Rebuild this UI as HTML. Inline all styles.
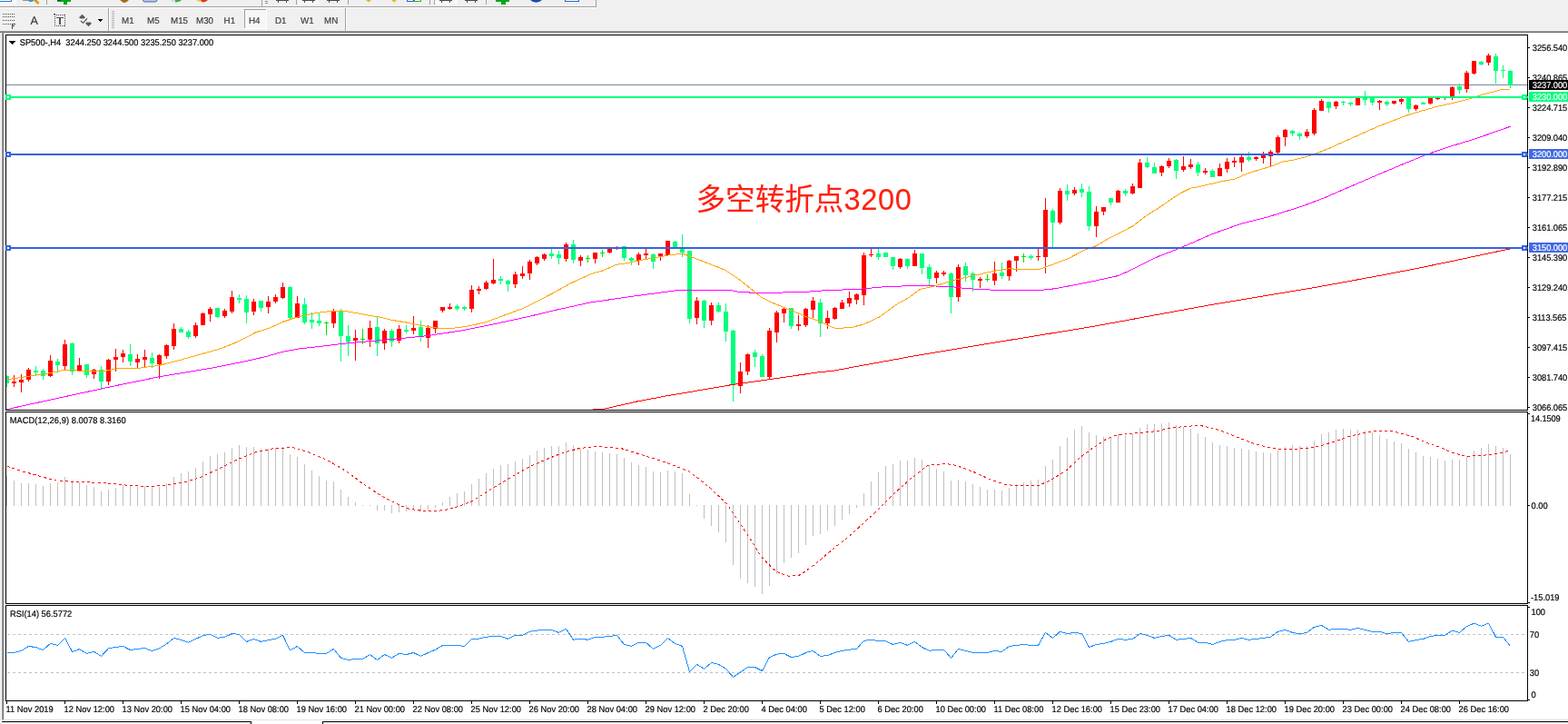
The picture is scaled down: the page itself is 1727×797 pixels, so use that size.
<!DOCTYPE html>
<html lang="zh"><head><meta charset="utf-8"><title>SP500-,H4</title>
<style>
html,body{margin:0;padding:0;background:#fff;}
body{width:1727px;height:797px;overflow:hidden;position:relative;font-family:"Liberation Sans","Noto Sans CJK SC",sans-serif;font-size:9.3px;color:#000;}
#g{position:absolute;left:0;top:0;}
.t{position:absolute;white-space:nowrap;line-height:12px;height:12px;text-rendering:geometricPrecision;-webkit-text-stroke:0.18px currentColor;}
.tb{color:#3c3c3c;}
.w{color:#fff;}
#note{position:absolute;left:766.5px;top:197.4px;-webkit-text-stroke:0.12px #ff2010;font-size:32.6px;line-height:46px;color:#ff2010;white-space:nowrap;font-family:"Liberation Sans","Noto Sans CJK SC",sans-serif;}
</style></head><body>
<svg id="g" width="1727" height="797" viewBox="0 0 1727 797" shape-rendering="crispEdges">
<rect x="0" y="0" width="1727" height="34" fill="#f0f0f0"/>
<rect x="0" y="7" width="657" height="1" fill="#a0a0a0"/>
<rect x="0" y="8" width="657" height="1" fill="#ffffff"/>
<rect x="656" y="0" width="1" height="8" fill="#a0a0a0"/>
<rect x="0" y="34" width="1727" height="1" fill="#a0a0a0"/>
<rect x="0" y="35" width="1727" height="1" fill="#696969"/>
<rect x="0" y="36" width="2" height="757" fill="#f0f0f0"/>
<rect x="2" y="36" width="1" height="756" fill="#a0a0a0"/>
<rect x="3" y="36" width="1" height="756" fill="#696969"/>
<rect x="2" y="34" width="2" height="2" fill="#888"/>
<rect x="0" y="792" width="1727" height="1" fill="#e3e3e3"/>
<rect x="2" y="794" width="1727" height="1" fill="#000"/>
<rect x="0" y="795" width="1727" height="2" fill="#f0f0f0"/>
<rect x="277" y="794" width="79" height="3" fill="#fff"/>
<rect x="276" y="794" width="1" height="3" fill="#000"/>
<rect x="355" y="794" width="1" height="3" fill="#000"/>
<rect x="0" y="0" width="18" height="5" fill="#f8f8f8"/>
<rect x="0" y="0" width="13" height="1" fill="#ffffff"/>
<rect x="0" y="1" width="13" height="1" fill="#2a78d0"/>
<rect x="12" y="0" width="1" height="2" fill="#2a78d0"/>
<path d="M25,0 L31,0 L31,1.5 L25,1 Z" fill="#9a9484"/>
<path d="M30,0 L37,0 L35.5,1.6 L32,1.6 Z" fill="#4a90d8"/>
<path d="M37,0 L40.5,0 L43.5,3 L41.5,4.8 L37.5,1 Z" fill="#d0a010" shape-rendering="auto"/>
<rect x="51" y="0" width="1" height="5" fill="#a0a0a0"/>
<rect x="63" y="0" width="15" height="2" fill="#00a818"/>
<rect x="70" y="0" width="4" height="5" fill="#00a818"/>
<rect x="63" y="0" width="4" height="1" fill="#404040"/>
<path d="M132,0 L142,0 L139,2.6 L136,3 Z" fill="#a8681c" shape-rendering="auto"/>
<rect x="157.5" y="-3" width="15.5" height="5" rx="2" fill="#b8c8e4" stroke="#4a68b4" stroke-width="1" shape-rendering="auto"/>
<path d="M187,0 L193,0 L193,2.2 Q189,2 187,0 Z" fill="#c8dcf0" shape-rendering="auto"/>
<path d="M193,0 L200,0 Q198,2.4 193,2.4 Z" fill="#3cb044" shape-rendering="auto"/>
<path d="M216,0 L222,0 L222,2 Q218,2 216,0 Z" fill="#e8c83c" shape-rendering="auto"/>
<path d="M221,0 L229,0 Q227,2.6 223,2.4 Z" fill="#e83410" shape-rendering="auto"/>
<rect x="288" y="0" width="1" height="7" fill="#a0a0a0"/>
<rect x="292" y="1" width="3" height="1" fill="#909090"/>
<rect x="292" y="3" width="3" height="1" fill="#909090"/>
<rect x="304" y="0" width="14" height="1" fill="#4a4a4a"/>
<rect x="306" y="1" width="1" height="2" fill="#4a4a4a"/>
<rect x="315" y="1" width="1" height="2" fill="#4a4a4a"/>
<rect x="326" y="0" width="1" height="5" fill="#a0a0a0"/>
<rect x="328" y="0" width="23" height="5" fill="#f8f8f8"/>
<rect x="333" y="0" width="14" height="1" fill="#4a4a4a"/>
<rect x="335" y="1" width="1" height="2" fill="#4a4a4a"/>
<rect x="344" y="1" width="1" height="2" fill="#4a4a4a"/>
<rect x="360" y="0" width="14" height="1" fill="#4a4a4a"/>
<rect x="362" y="1" width="1" height="2" fill="#4a4a4a"/>
<rect x="371" y="1" width="1" height="2" fill="#4a4a4a"/>
<rect x="383" y="0" width="1" height="5" fill="#a0a0a0"/>
<path d="M403,0 L409,0 L406,2.6 Z" fill="#e0b818" shape-rendering="auto"/>
<path d="M431,0 L437,0 L434,2.6 Z" fill="#e0b818" shape-rendering="auto"/>
<rect x="448" y="0" width="8" height="2" fill="#2a5cd8"/>
<rect x="449" y="0" width="6" height="1" fill="#fff"/>
<rect x="456" y="0" width="8" height="2" fill="#38a830"/>
<rect x="457" y="0" width="6" height="1" fill="#fff"/>
<rect x="473" y="0" width="1" height="5" fill="#a0a0a0"/>
<rect x="478" y="0" width="1" height="5" fill="#a0a0a0"/>
<rect x="479" y="0" width="25" height="5" fill="#f8f8f8"/>
<rect x="484" y="0" width="14" height="1" fill="#4a4a4a"/>
<rect x="486" y="1" width="1" height="2" fill="#4a4a4a"/>
<rect x="495" y="1" width="1" height="2" fill="#4a4a4a"/>
<rect x="512" y="0" width="14" height="1" fill="#4a4a4a"/>
<rect x="514" y="1" width="1" height="2" fill="#4a4a4a"/>
<rect x="523" y="1" width="1" height="2" fill="#4a4a4a"/>
<rect x="535" y="0" width="1" height="5" fill="#a0a0a0"/>
<rect x="546" y="0" width="15" height="2" fill="#00a818"/>
<rect x="552" y="0" width="5" height="5" fill="#00a818"/>
<path d="M584,0 L597,0 Q594,2.8 590.5,2.8 Q587,2.8 584,0 Z" fill="#1c4cb0" shape-rendering="auto"/>
<rect x="622" y="0" width="16" height="2" fill="#2a6cc8"/>
<rect x="623" y="0" width="14" height="1" fill="#fff"/>
<rect x="3" y="15" width="1" height="1" fill="#4a4a4a"/>
<rect x="5" y="15" width="1" height="1" fill="#4a4a4a"/>
<rect x="7" y="15" width="1" height="1" fill="#4a4a4a"/>
<rect x="9" y="15" width="1" height="1" fill="#4a4a4a"/>
<rect x="11" y="15" width="1" height="1" fill="#4a4a4a"/>
<rect x="13" y="15" width="1" height="1" fill="#4a4a4a"/>
<rect x="15" y="15" width="1" height="1" fill="#4a4a4a"/>
<rect x="3" y="18" width="1" height="1" fill="#4a4a4a"/>
<rect x="5" y="18" width="1" height="1" fill="#4a4a4a"/>
<rect x="7" y="18" width="1" height="1" fill="#4a4a4a"/>
<rect x="9" y="18" width="1" height="1" fill="#4a4a4a"/>
<rect x="11" y="18" width="1" height="1" fill="#4a4a4a"/>
<rect x="13" y="18" width="1" height="1" fill="#4a4a4a"/>
<rect x="15" y="18" width="1" height="1" fill="#4a4a4a"/>
<rect x="3" y="22" width="1" height="1" fill="#4a4a4a"/>
<rect x="5" y="22" width="1" height="1" fill="#4a4a4a"/>
<rect x="7" y="22" width="1" height="1" fill="#4a4a4a"/>
<rect x="9" y="22" width="1" height="1" fill="#4a4a4a"/>
<rect x="11" y="22" width="1" height="1" fill="#4a4a4a"/>
<rect x="13" y="22" width="1" height="1" fill="#4a4a4a"/>
<rect x="15" y="22" width="1" height="1" fill="#4a4a4a"/>
<rect x="3" y="26" width="1" height="1" fill="#4a4a4a"/>
<rect x="5" y="26" width="1" height="1" fill="#4a4a4a"/>
<rect x="7" y="26" width="1" height="1" fill="#4a4a4a"/>
<rect x="9" y="26" width="1" height="1" fill="#4a4a4a"/>
<rect x="11" y="26" width="1" height="1" fill="#4a4a4a"/>
<rect x="13" y="26" width="1" height="6" fill="#4a4a4a"/>
<rect x="13" y="26" width="4" height="1" fill="#4a4a4a"/>
<rect x="13" y="28" width="3" height="1" fill="#4a4a4a"/>
<rect x="60" y="16" width="1" height="1" fill="#4a4a4a"/>
<rect x="60" y="28" width="1" height="1" fill="#4a4a4a"/>
<rect x="62" y="16" width="1" height="1" fill="#4a4a4a"/>
<rect x="62" y="28" width="1" height="1" fill="#4a4a4a"/>
<rect x="64" y="16" width="1" height="1" fill="#4a4a4a"/>
<rect x="64" y="28" width="1" height="1" fill="#4a4a4a"/>
<rect x="66" y="16" width="1" height="1" fill="#4a4a4a"/>
<rect x="66" y="28" width="1" height="1" fill="#4a4a4a"/>
<rect x="68" y="16" width="1" height="1" fill="#4a4a4a"/>
<rect x="68" y="28" width="1" height="1" fill="#4a4a4a"/>
<rect x="70" y="16" width="1" height="1" fill="#4a4a4a"/>
<rect x="70" y="28" width="1" height="1" fill="#4a4a4a"/>
<rect x="71" y="16" width="1" height="1" fill="#4a4a4a"/>
<rect x="71" y="28" width="1" height="1" fill="#4a4a4a"/>
<rect x="60" y="18" width="1" height="1" fill="#4a4a4a"/>
<rect x="71" y="18" width="1" height="1" fill="#4a4a4a"/>
<rect x="60" y="20" width="1" height="1" fill="#4a4a4a"/>
<rect x="71" y="20" width="1" height="1" fill="#4a4a4a"/>
<rect x="60" y="22" width="1" height="1" fill="#4a4a4a"/>
<rect x="71" y="22" width="1" height="1" fill="#4a4a4a"/>
<rect x="60" y="24" width="1" height="1" fill="#4a4a4a"/>
<rect x="71" y="24" width="1" height="1" fill="#4a4a4a"/>
<rect x="60" y="26" width="1" height="1" fill="#4a4a4a"/>
<rect x="71" y="26" width="1" height="1" fill="#4a4a4a"/>
<rect x="59" y="15" width="2" height="1" fill="#4a4a4a"/>
<rect x="62" y="19" width="8" height="1" fill="#555"/>
<rect x="65" y="19" width="2" height="8" fill="#555"/>
<path d="M90.5,15.8 L94,19.3 L92.4,20.6 L88.6,20.6 L87,19.3 Z" fill="#5a5a5a" shape-rendering="auto"/>
<path d="M97.5,29.2 L101,25.7 L99.4,24.4 L95.6,24.4 L94,25.7 Z" fill="#5a5a5a" shape-rendering="auto"/>
<path d="M89,23 L91.5,25.3 L96,20.3" fill="none" stroke="#444" stroke-width="1.1" shape-rendering="auto"/>
<rect x="108" y="21" width="5" height="1" fill="#000"/>
<rect x="109" y="22" width="3" height="1" fill="#000"/>
<rect x="110" y="23" width="1" height="1" fill="#000"/>
<rect x="119" y="9" width="1" height="25" fill="#a0a0a0"/>
<rect x="120" y="9" width="1" height="25" fill="#fff"/>
<rect x="123" y="12" width="3" height="1" fill="#b4b4b4"/>
<rect x="123" y="14" width="3" height="1" fill="#b4b4b4"/>
<rect x="123" y="16" width="3" height="1" fill="#b4b4b4"/>
<rect x="123" y="18" width="3" height="1" fill="#b4b4b4"/>
<rect x="123" y="20" width="3" height="1" fill="#b4b4b4"/>
<rect x="123" y="22" width="3" height="1" fill="#b4b4b4"/>
<rect x="123" y="24" width="3" height="1" fill="#b4b4b4"/>
<rect x="123" y="26" width="3" height="1" fill="#b4b4b4"/>
<rect x="123" y="28" width="3" height="1" fill="#b4b4b4"/>
<rect x="123" y="30" width="3" height="1" fill="#b4b4b4"/>
<rect x="269" y="10" width="25" height="22" fill="#f7f7f7"/>
<rect x="269" y="10" width="25" height="1" fill="#a0a0a0"/>
<rect x="269" y="10" width="1" height="22" fill="#a0a0a0"/>
<rect x="293" y="10" width="1" height="22" fill="#fff"/>
<rect x="269" y="31" width="25" height="1" fill="#fff"/>
<rect x="380" y="9" width="1" height="25" fill="#a0a0a0"/>
<rect x="381" y="9" width="1" height="25" fill="#fff"/>
<rect x="10" y="45" width="7" height="1" fill="#000"/>
<rect x="11" y="46" width="5" height="1" fill="#000"/>
<rect x="12" y="47" width="3" height="1" fill="#000"/>
<rect x="13" y="48" width="1" height="1" fill="#000"/>
<rect x="7" y="93" width="1675" height="1" fill="#778899"/>
<rect x="7" y="413" width="1" height="13" fill="#00fe7c"/>
<rect x="7" y="414" width="3" height="8" fill="#00fe7c"/>
<rect x="15" y="413" width="1" height="13" fill="#ff0000"/>
<rect x="13" y="420" width="5" height="2" fill="#ff0000"/>
<rect x="23" y="412" width="1" height="20" fill="#ff0000"/>
<rect x="21" y="418" width="5" height="3" fill="#ff0000"/>
<rect x="31" y="405" width="1" height="15" fill="#ff0000"/>
<rect x="29" y="407" width="5" height="11" fill="#ff0000"/>
<rect x="39" y="403" width="1" height="10" fill="#00fe7c"/>
<rect x="37" y="408" width="5" height="2" fill="#00fe7c"/>
<rect x="47" y="406" width="1" height="12" fill="#00fe7c"/>
<rect x="45" y="408" width="5" height="6" fill="#00fe7c"/>
<rect x="55" y="391" width="1" height="24" fill="#ff0000"/>
<rect x="53" y="397" width="5" height="17" fill="#ff0000"/>
<rect x="63" y="395" width="1" height="15" fill="#00fe7c"/>
<rect x="61" y="398" width="5" height="4" fill="#00fe7c"/>
<rect x="71" y="374" width="1" height="33" fill="#ff0000"/>
<rect x="69" y="379" width="5" height="24" fill="#ff0000"/>
<rect x="79" y="377" width="1" height="36" fill="#00fe7c"/>
<rect x="77" y="378" width="5" height="31" fill="#00fe7c"/>
<rect x="87" y="394" width="1" height="14" fill="#ff0000"/>
<rect x="85" y="402" width="5" height="6" fill="#ff0000"/>
<rect x="95" y="401" width="1" height="15" fill="#00fe7c"/>
<rect x="93" y="401" width="5" height="12" fill="#00fe7c"/>
<rect x="103" y="406" width="1" height="11" fill="#ff0000"/>
<rect x="101" y="407" width="5" height="5" fill="#ff0000"/>
<rect x="111" y="403" width="1" height="26" fill="#00fe7c"/>
<rect x="109" y="407" width="5" height="13" fill="#00fe7c"/>
<rect x="119" y="395" width="1" height="29" fill="#ff0000"/>
<rect x="117" y="396" width="5" height="24" fill="#ff0000"/>
<rect x="127" y="384" width="1" height="25" fill="#ff0000"/>
<rect x="125" y="393" width="5" height="3" fill="#ff0000"/>
<rect x="135" y="385" width="1" height="14" fill="#ff0000"/>
<rect x="133" y="389" width="5" height="4" fill="#ff0000"/>
<rect x="143" y="379" width="1" height="24" fill="#00fe7c"/>
<rect x="141" y="390" width="5" height="8" fill="#00fe7c"/>
<rect x="151" y="390" width="1" height="15" fill="#ff0000"/>
<rect x="149" y="395" width="5" height="4" fill="#ff0000"/>
<rect x="159" y="385" width="1" height="19" fill="#ff0000"/>
<rect x="157" y="393" width="5" height="3" fill="#ff0000"/>
<rect x="167" y="388" width="1" height="17" fill="#00fe7c"/>
<rect x="165" y="394" width="5" height="6" fill="#00fe7c"/>
<rect x="175" y="390" width="1" height="27" fill="#ff0000"/>
<rect x="173" y="391" width="5" height="10" fill="#ff0000"/>
<rect x="183" y="379" width="1" height="16" fill="#ff0000"/>
<rect x="181" y="380" width="5" height="12" fill="#ff0000"/>
<rect x="191" y="356" width="1" height="29" fill="#ff0000"/>
<rect x="189" y="362" width="5" height="19" fill="#ff0000"/>
<rect x="199" y="360" width="1" height="6" fill="#00fe7c"/>
<rect x="197" y="362" width="5" height="4" fill="#00fe7c"/>
<rect x="207" y="363" width="1" height="10" fill="#00fe7c"/>
<rect x="205" y="365" width="5" height="6" fill="#00fe7c"/>
<rect x="215" y="355" width="1" height="17" fill="#ff0000"/>
<rect x="213" y="358" width="5" height="12" fill="#ff0000"/>
<rect x="223" y="344" width="1" height="14" fill="#ff0000"/>
<rect x="221" y="345" width="5" height="13" fill="#ff0000"/>
<rect x="231" y="338" width="1" height="16" fill="#ff0000"/>
<rect x="229" y="340" width="5" height="6" fill="#ff0000"/>
<rect x="239" y="339" width="1" height="11" fill="#00fe7c"/>
<rect x="237" y="339" width="5" height="10" fill="#00fe7c"/>
<rect x="247" y="340" width="1" height="10" fill="#ff0000"/>
<rect x="245" y="342" width="5" height="6" fill="#ff0000"/>
<rect x="255" y="320" width="1" height="25" fill="#ff0000"/>
<rect x="253" y="327" width="5" height="16" fill="#ff0000"/>
<rect x="263" y="324" width="1" height="10" fill="#00fe7c"/>
<rect x="261" y="328" width="5" height="2" fill="#00fe7c"/>
<rect x="271" y="325" width="1" height="31" fill="#00fe7c"/>
<rect x="269" y="329" width="5" height="15" fill="#00fe7c"/>
<rect x="279" y="329" width="1" height="18" fill="#ff0000"/>
<rect x="277" y="332" width="5" height="11" fill="#ff0000"/>
<rect x="287" y="331" width="1" height="12" fill="#00fe7c"/>
<rect x="285" y="331" width="5" height="8" fill="#00fe7c"/>
<rect x="295" y="326" width="1" height="19" fill="#ff0000"/>
<rect x="293" y="332" width="5" height="6" fill="#ff0000"/>
<rect x="303" y="324" width="1" height="10" fill="#ff0000"/>
<rect x="301" y="327" width="5" height="5" fill="#ff0000"/>
<rect x="311" y="311" width="1" height="18" fill="#ff0000"/>
<rect x="309" y="316" width="5" height="12" fill="#ff0000"/>
<rect x="319" y="315" width="1" height="37" fill="#00fe7c"/>
<rect x="317" y="316" width="5" height="34" fill="#00fe7c"/>
<rect x="327" y="326" width="1" height="24" fill="#ff0000"/>
<rect x="325" y="334" width="5" height="16" fill="#ff0000"/>
<rect x="335" y="328" width="1" height="29" fill="#00fe7c"/>
<rect x="333" y="335" width="5" height="20" fill="#00fe7c"/>
<rect x="343" y="344" width="1" height="18" fill="#00fe7c"/>
<rect x="341" y="352" width="5" height="3" fill="#00fe7c"/>
<rect x="351" y="345" width="1" height="14" fill="#00fe7c"/>
<rect x="349" y="353" width="5" height="3" fill="#00fe7c"/>
<rect x="359" y="354" width="1" height="15" fill="#00e400"/>
<rect x="357" y="355" width="5" height="1" fill="#00e400"/>
<rect x="367" y="340" width="1" height="21" fill="#ff0000"/>
<rect x="365" y="343" width="5" height="13" fill="#ff0000"/>
<rect x="375" y="340" width="1" height="58" fill="#00fe7c"/>
<rect x="373" y="342" width="5" height="28" fill="#00fe7c"/>
<rect x="383" y="358" width="1" height="34" fill="#00fe7c"/>
<rect x="381" y="370" width="5" height="6" fill="#00fe7c"/>
<rect x="391" y="363" width="1" height="34" fill="#ff0000"/>
<rect x="389" y="372" width="5" height="3" fill="#ff0000"/>
<rect x="399" y="362" width="1" height="17" fill="#00e400"/>
<rect x="397" y="373" width="5" height="1" fill="#00e400"/>
<rect x="407" y="353" width="1" height="29" fill="#ff0000"/>
<rect x="405" y="361" width="5" height="13" fill="#ff0000"/>
<rect x="415" y="349" width="1" height="43" fill="#00fe7c"/>
<rect x="413" y="360" width="5" height="18" fill="#00fe7c"/>
<rect x="423" y="362" width="1" height="23" fill="#ff0000"/>
<rect x="421" y="364" width="5" height="14" fill="#ff0000"/>
<rect x="431" y="362" width="1" height="20" fill="#00fe7c"/>
<rect x="429" y="364" width="5" height="12" fill="#00fe7c"/>
<rect x="439" y="358" width="1" height="20" fill="#ff0000"/>
<rect x="437" y="362" width="5" height="13" fill="#ff0000"/>
<rect x="447" y="358" width="1" height="9" fill="#00fe7c"/>
<rect x="445" y="363" width="5" height="2" fill="#00fe7c"/>
<rect x="455" y="348" width="1" height="20" fill="#ff0000"/>
<rect x="453" y="361" width="5" height="3" fill="#ff0000"/>
<rect x="463" y="353" width="1" height="23" fill="#00fe7c"/>
<rect x="461" y="360" width="5" height="10" fill="#00fe7c"/>
<rect x="471" y="358" width="1" height="25" fill="#ff0000"/>
<rect x="469" y="361" width="5" height="11" fill="#ff0000"/>
<rect x="479" y="353" width="1" height="14" fill="#ff0000"/>
<rect x="477" y="353" width="5" height="9" fill="#ff0000"/>
<rect x="487" y="338" width="1" height="6" fill="#ff0000"/>
<rect x="485" y="338" width="5" height="4" fill="#ff0000"/>
<rect x="495" y="334" width="1" height="7" fill="#ff0000"/>
<rect x="493" y="338" width="5" height="2" fill="#ff0000"/>
<rect x="503" y="335" width="1" height="7" fill="#00fe7c"/>
<rect x="501" y="337" width="5" height="3" fill="#00fe7c"/>
<rect x="511" y="337" width="1" height="5" fill="#00fe7c"/>
<rect x="509" y="338" width="5" height="2" fill="#00fe7c"/>
<rect x="519" y="314" width="1" height="30" fill="#ff0000"/>
<rect x="517" y="319" width="5" height="21" fill="#ff0000"/>
<rect x="527" y="315" width="1" height="9" fill="#ff0000"/>
<rect x="525" y="318" width="5" height="2" fill="#ff0000"/>
<rect x="535" y="309" width="1" height="10" fill="#ff0000"/>
<rect x="533" y="311" width="5" height="7" fill="#ff0000"/>
<rect x="543" y="285" width="1" height="28" fill="#ff0000"/>
<rect x="541" y="308" width="5" height="4" fill="#ff0000"/>
<rect x="551" y="304" width="1" height="9" fill="#00fe7c"/>
<rect x="549" y="307" width="5" height="2" fill="#00fe7c"/>
<rect x="559" y="308" width="1" height="13" fill="#00fe7c"/>
<rect x="557" y="309" width="5" height="4" fill="#00fe7c"/>
<rect x="567" y="299" width="1" height="18" fill="#ff0000"/>
<rect x="565" y="302" width="5" height="11" fill="#ff0000"/>
<rect x="575" y="293" width="1" height="14" fill="#ff0000"/>
<rect x="573" y="301" width="5" height="3" fill="#ff0000"/>
<rect x="583" y="286" width="1" height="22" fill="#ff0000"/>
<rect x="581" y="288" width="5" height="13" fill="#ff0000"/>
<rect x="591" y="282" width="1" height="10" fill="#ff0000"/>
<rect x="589" y="283" width="5" height="7" fill="#ff0000"/>
<rect x="599" y="279" width="1" height="8" fill="#ff0000"/>
<rect x="597" y="280" width="5" height="5" fill="#ff0000"/>
<rect x="607" y="274" width="1" height="11" fill="#00fe7c"/>
<rect x="605" y="279" width="5" height="3" fill="#00fe7c"/>
<rect x="615" y="276" width="1" height="15" fill="#00fe7c"/>
<rect x="613" y="280" width="5" height="4" fill="#00fe7c"/>
<rect x="623" y="267" width="1" height="21" fill="#ff0000"/>
<rect x="621" y="269" width="5" height="16" fill="#ff0000"/>
<rect x="631" y="264" width="1" height="26" fill="#00fe7c"/>
<rect x="629" y="269" width="5" height="17" fill="#00fe7c"/>
<rect x="639" y="281" width="1" height="12" fill="#ff0000"/>
<rect x="637" y="283" width="5" height="4" fill="#ff0000"/>
<rect x="647" y="281" width="1" height="8" fill="#00e400"/>
<rect x="645" y="284" width="5" height="1" fill="#00e400"/>
<rect x="655" y="278" width="1" height="12" fill="#ff0000"/>
<rect x="653" y="278" width="5" height="7" fill="#ff0000"/>
<rect x="663" y="275" width="1" height="8" fill="#00e400"/>
<rect x="661" y="278" width="5" height="1" fill="#00e400"/>
<rect x="671" y="272" width="1" height="7" fill="#ff0000"/>
<rect x="669" y="272" width="5" height="6" fill="#ff0000"/>
<rect x="679" y="271" width="1" height="4" fill="#ff0000"/>
<rect x="677" y="272" width="5" height="2" fill="#ff0000"/>
<rect x="687" y="271" width="1" height="16" fill="#00fe7c"/>
<rect x="685" y="271" width="5" height="13" fill="#00fe7c"/>
<rect x="695" y="283" width="1" height="9" fill="#00fe7c"/>
<rect x="693" y="284" width="5" height="3" fill="#00fe7c"/>
<rect x="703" y="278" width="1" height="14" fill="#ff0000"/>
<rect x="701" y="280" width="5" height="7" fill="#ff0000"/>
<rect x="711" y="274" width="1" height="11" fill="#ff0000"/>
<rect x="709" y="279" width="5" height="2" fill="#ff0000"/>
<rect x="719" y="279" width="1" height="17" fill="#00fe7c"/>
<rect x="717" y="280" width="5" height="8" fill="#00fe7c"/>
<rect x="727" y="279" width="1" height="8" fill="#ff0000"/>
<rect x="725" y="279" width="5" height="3" fill="#ff0000"/>
<rect x="735" y="265" width="1" height="16" fill="#ff0000"/>
<rect x="733" y="265" width="5" height="16" fill="#ff0000"/>
<rect x="743" y="265" width="1" height="8" fill="#00fe7c"/>
<rect x="741" y="266" width="5" height="7" fill="#00fe7c"/>
<rect x="751" y="258" width="1" height="25" fill="#00fe7c"/>
<rect x="749" y="272" width="5" height="6" fill="#00fe7c"/>
<rect x="759" y="276" width="1" height="80" fill="#00fe7c"/>
<rect x="757" y="276" width="5" height="75" fill="#00fe7c"/>
<rect x="767" y="327" width="1" height="30" fill="#ff0000"/>
<rect x="765" y="331" width="5" height="19" fill="#ff0000"/>
<rect x="775" y="330" width="1" height="31" fill="#00fe7c"/>
<rect x="773" y="331" width="5" height="22" fill="#00fe7c"/>
<rect x="783" y="333" width="1" height="25" fill="#ff0000"/>
<rect x="781" y="336" width="5" height="17" fill="#ff0000"/>
<rect x="791" y="333" width="1" height="11" fill="#00fe7c"/>
<rect x="789" y="336" width="5" height="7" fill="#00fe7c"/>
<rect x="799" y="334" width="1" height="42" fill="#00fe7c"/>
<rect x="797" y="343" width="5" height="22" fill="#00fe7c"/>
<rect x="807" y="363" width="1" height="79" fill="#00fe7c"/>
<rect x="805" y="364" width="5" height="59" fill="#00fe7c"/>
<rect x="815" y="399" width="1" height="34" fill="#ff0000"/>
<rect x="813" y="409" width="5" height="16" fill="#ff0000"/>
<rect x="823" y="389" width="1" height="24" fill="#ff0000"/>
<rect x="821" y="390" width="5" height="19" fill="#ff0000"/>
<rect x="831" y="385" width="1" height="19" fill="#00fe7c"/>
<rect x="829" y="388" width="5" height="5" fill="#00fe7c"/>
<rect x="839" y="390" width="1" height="25" fill="#00fe7c"/>
<rect x="837" y="392" width="5" height="23" fill="#00fe7c"/>
<rect x="847" y="361" width="1" height="56" fill="#ff0000"/>
<rect x="845" y="364" width="5" height="51" fill="#ff0000"/>
<rect x="855" y="342" width="1" height="35" fill="#ff0000"/>
<rect x="853" y="344" width="5" height="22" fill="#ff0000"/>
<rect x="863" y="338" width="1" height="17" fill="#ff0000"/>
<rect x="861" y="340" width="5" height="5" fill="#ff0000"/>
<rect x="871" y="339" width="1" height="23" fill="#00fe7c"/>
<rect x="869" y="339" width="5" height="20" fill="#00fe7c"/>
<rect x="879" y="347" width="1" height="17" fill="#ff0000"/>
<rect x="877" y="357" width="5" height="2" fill="#ff0000"/>
<rect x="887" y="339" width="1" height="21" fill="#ff0000"/>
<rect x="885" y="340" width="5" height="18" fill="#ff0000"/>
<rect x="895" y="327" width="1" height="23" fill="#ff0000"/>
<rect x="893" y="331" width="5" height="10" fill="#ff0000"/>
<rect x="903" y="329" width="1" height="42" fill="#00fe7c"/>
<rect x="901" y="333" width="5" height="23" fill="#00fe7c"/>
<rect x="911" y="342" width="1" height="20" fill="#ff0000"/>
<rect x="909" y="350" width="5" height="6" fill="#ff0000"/>
<rect x="919" y="338" width="1" height="14" fill="#ff0000"/>
<rect x="917" y="339" width="5" height="12" fill="#ff0000"/>
<rect x="927" y="330" width="1" height="10" fill="#ff0000"/>
<rect x="925" y="333" width="5" height="7" fill="#ff0000"/>
<rect x="935" y="321" width="1" height="17" fill="#ff0000"/>
<rect x="933" y="328" width="5" height="6" fill="#ff0000"/>
<rect x="943" y="323" width="1" height="12" fill="#ff0000"/>
<rect x="941" y="324" width="5" height="6" fill="#ff0000"/>
<rect x="951" y="278" width="1" height="58" fill="#ff0000"/>
<rect x="949" y="281" width="5" height="44" fill="#ff0000"/>
<rect x="959" y="274" width="1" height="9" fill="#ff0000"/>
<rect x="957" y="280" width="5" height="1" fill="#ff0000"/>
<rect x="967" y="274" width="1" height="12" fill="#00fe7c"/>
<rect x="965" y="279" width="5" height="4" fill="#00fe7c"/>
<rect x="975" y="278" width="1" height="5" fill="#00fe7c"/>
<rect x="973" y="278" width="5" height="5" fill="#00fe7c"/>
<rect x="983" y="283" width="1" height="14" fill="#00fe7c"/>
<rect x="981" y="283" width="5" height="10" fill="#00fe7c"/>
<rect x="991" y="284" width="1" height="12" fill="#ff0000"/>
<rect x="989" y="285" width="5" height="9" fill="#ff0000"/>
<rect x="999" y="284" width="1" height="12" fill="#00fe7c"/>
<rect x="997" y="285" width="5" height="8" fill="#00fe7c"/>
<rect x="1007" y="275" width="1" height="18" fill="#ff0000"/>
<rect x="1005" y="279" width="5" height="14" fill="#ff0000"/>
<rect x="1015" y="279" width="1" height="23" fill="#00fe7c"/>
<rect x="1013" y="279" width="5" height="16" fill="#00fe7c"/>
<rect x="1023" y="291" width="1" height="23" fill="#00fe7c"/>
<rect x="1021" y="294" width="5" height="13" fill="#00fe7c"/>
<rect x="1031" y="298" width="1" height="14" fill="#ff0000"/>
<rect x="1029" y="300" width="5" height="6" fill="#ff0000"/>
<rect x="1039" y="298" width="1" height="6" fill="#ff0000"/>
<rect x="1037" y="300" width="5" height="2" fill="#ff0000"/>
<rect x="1047" y="300" width="1" height="45" fill="#00fe7c"/>
<rect x="1045" y="301" width="5" height="26" fill="#00fe7c"/>
<rect x="1055" y="291" width="1" height="41" fill="#ff0000"/>
<rect x="1053" y="294" width="5" height="33" fill="#ff0000"/>
<rect x="1063" y="289" width="1" height="21" fill="#00fe7c"/>
<rect x="1061" y="293" width="5" height="10" fill="#00fe7c"/>
<rect x="1071" y="299" width="1" height="22" fill="#00fe7c"/>
<rect x="1069" y="301" width="5" height="7" fill="#00fe7c"/>
<rect x="1079" y="305" width="1" height="12" fill="#ff0000"/>
<rect x="1077" y="307" width="5" height="2" fill="#ff0000"/>
<rect x="1087" y="302" width="1" height="8" fill="#00e400"/>
<rect x="1085" y="307" width="5" height="1" fill="#00e400"/>
<rect x="1095" y="288" width="1" height="26" fill="#ff0000"/>
<rect x="1093" y="301" width="5" height="8" fill="#ff0000"/>
<rect x="1103" y="289" width="1" height="18" fill="#00fe7c"/>
<rect x="1101" y="300" width="5" height="4" fill="#00fe7c"/>
<rect x="1111" y="286" width="1" height="23" fill="#ff0000"/>
<rect x="1109" y="287" width="5" height="17" fill="#ff0000"/>
<rect x="1119" y="282" width="1" height="17" fill="#ff0000"/>
<rect x="1117" y="282" width="5" height="5" fill="#ff0000"/>
<rect x="1127" y="279" width="1" height="10" fill="#00e400"/>
<rect x="1125" y="282" width="5" height="1" fill="#00e400"/>
<rect x="1135" y="280" width="1" height="6" fill="#00fe7c"/>
<rect x="1133" y="282" width="5" height="2" fill="#00fe7c"/>
<rect x="1143" y="274" width="1" height="13" fill="#ff0000"/>
<rect x="1141" y="282" width="5" height="1" fill="#ff0000"/>
<rect x="1151" y="218" width="1" height="83" fill="#ff0000"/>
<rect x="1149" y="231" width="5" height="52" fill="#ff0000"/>
<rect x="1159" y="230" width="1" height="42" fill="#00fe7c"/>
<rect x="1157" y="232" width="5" height="13" fill="#00fe7c"/>
<rect x="1167" y="207" width="1" height="40" fill="#ff0000"/>
<rect x="1165" y="210" width="5" height="35" fill="#ff0000"/>
<rect x="1175" y="203" width="1" height="18" fill="#00fe7c"/>
<rect x="1173" y="210" width="5" height="4" fill="#00fe7c"/>
<rect x="1183" y="206" width="1" height="9" fill="#ff0000"/>
<rect x="1181" y="209" width="5" height="4" fill="#ff0000"/>
<rect x="1191" y="202" width="1" height="15" fill="#00fe7c"/>
<rect x="1189" y="208" width="5" height="4" fill="#00fe7c"/>
<rect x="1199" y="205" width="1" height="49" fill="#00fe7c"/>
<rect x="1197" y="211" width="5" height="38" fill="#00fe7c"/>
<rect x="1207" y="227" width="1" height="34" fill="#ff0000"/>
<rect x="1205" y="233" width="5" height="16" fill="#ff0000"/>
<rect x="1215" y="228" width="1" height="9" fill="#ff0000"/>
<rect x="1213" y="228" width="5" height="5" fill="#ff0000"/>
<rect x="1223" y="218" width="1" height="8" fill="#00fe7c"/>
<rect x="1221" y="218" width="5" height="5" fill="#00fe7c"/>
<rect x="1231" y="209" width="1" height="14" fill="#ff0000"/>
<rect x="1229" y="210" width="5" height="13" fill="#ff0000"/>
<rect x="1239" y="208" width="1" height="8" fill="#00fe7c"/>
<rect x="1237" y="210" width="5" height="3" fill="#00fe7c"/>
<rect x="1247" y="202" width="1" height="12" fill="#ff0000"/>
<rect x="1245" y="205" width="5" height="8" fill="#ff0000"/>
<rect x="1255" y="175" width="1" height="32" fill="#ff0000"/>
<rect x="1253" y="179" width="5" height="28" fill="#ff0000"/>
<rect x="1263" y="173" width="1" height="12" fill="#00fe7c"/>
<rect x="1261" y="179" width="5" height="5" fill="#00fe7c"/>
<rect x="1271" y="179" width="1" height="12" fill="#00fe7c"/>
<rect x="1269" y="184" width="5" height="7" fill="#00fe7c"/>
<rect x="1279" y="182" width="1" height="12" fill="#ff0000"/>
<rect x="1277" y="183" width="5" height="7" fill="#ff0000"/>
<rect x="1287" y="174" width="1" height="11" fill="#ff0000"/>
<rect x="1285" y="177" width="5" height="6" fill="#ff0000"/>
<rect x="1295" y="175" width="1" height="22" fill="#00fe7c"/>
<rect x="1293" y="176" width="5" height="12" fill="#00fe7c"/>
<rect x="1303" y="172" width="1" height="17" fill="#ff0000"/>
<rect x="1301" y="183" width="5" height="4" fill="#ff0000"/>
<rect x="1311" y="175" width="1" height="11" fill="#ff0000"/>
<rect x="1309" y="181" width="5" height="3" fill="#ff0000"/>
<rect x="1319" y="178" width="1" height="16" fill="#00fe7c"/>
<rect x="1317" y="181" width="5" height="9" fill="#00fe7c"/>
<rect x="1327" y="185" width="1" height="7" fill="#ff0000"/>
<rect x="1325" y="188" width="5" height="2" fill="#ff0000"/>
<rect x="1335" y="186" width="1" height="9" fill="#00fe7c"/>
<rect x="1333" y="188" width="5" height="7" fill="#00fe7c"/>
<rect x="1343" y="180" width="1" height="14" fill="#ff0000"/>
<rect x="1341" y="185" width="5" height="9" fill="#ff0000"/>
<rect x="1351" y="174" width="1" height="16" fill="#ff0000"/>
<rect x="1349" y="178" width="5" height="8" fill="#ff0000"/>
<rect x="1359" y="173" width="1" height="11" fill="#ff0000"/>
<rect x="1357" y="177" width="5" height="2" fill="#ff0000"/>
<rect x="1367" y="171" width="1" height="18" fill="#ff0000"/>
<rect x="1365" y="173" width="5" height="6" fill="#ff0000"/>
<rect x="1375" y="167" width="1" height="11" fill="#00fe7c"/>
<rect x="1373" y="173" width="5" height="3" fill="#00fe7c"/>
<rect x="1383" y="172" width="1" height="5" fill="#ff0000"/>
<rect x="1381" y="173" width="5" height="2" fill="#ff0000"/>
<rect x="1391" y="167" width="1" height="13" fill="#ff0000"/>
<rect x="1389" y="171" width="5" height="3" fill="#ff0000"/>
<rect x="1399" y="165" width="1" height="18" fill="#ff0000"/>
<rect x="1397" y="167" width="5" height="5" fill="#ff0000"/>
<rect x="1407" y="149" width="1" height="20" fill="#ff0000"/>
<rect x="1405" y="151" width="5" height="17" fill="#ff0000"/>
<rect x="1415" y="142" width="1" height="19" fill="#ff0000"/>
<rect x="1413" y="143" width="5" height="8" fill="#ff0000"/>
<rect x="1423" y="143" width="1" height="7" fill="#00fe7c"/>
<rect x="1421" y="144" width="5" height="3" fill="#00fe7c"/>
<rect x="1431" y="146" width="1" height="8" fill="#00fe7c"/>
<rect x="1429" y="147" width="5" height="3" fill="#00fe7c"/>
<rect x="1439" y="142" width="1" height="10" fill="#ff0000"/>
<rect x="1437" y="145" width="5" height="5" fill="#ff0000"/>
<rect x="1447" y="119" width="1" height="30" fill="#ff0000"/>
<rect x="1445" y="121" width="5" height="26" fill="#ff0000"/>
<rect x="1455" y="109" width="1" height="13" fill="#ff0000"/>
<rect x="1453" y="111" width="5" height="11" fill="#ff0000"/>
<rect x="1463" y="112" width="1" height="12" fill="#00fe7c"/>
<rect x="1461" y="112" width="5" height="7" fill="#00fe7c"/>
<rect x="1471" y="111" width="1" height="9" fill="#ff0000"/>
<rect x="1469" y="112" width="5" height="5" fill="#ff0000"/>
<rect x="1479" y="111" width="1" height="5" fill="#00fe7c"/>
<rect x="1477" y="112" width="5" height="1" fill="#00fe7c"/>
<rect x="1487" y="112" width="1" height="5" fill="#00fe7c"/>
<rect x="1485" y="113" width="5" height="2" fill="#00fe7c"/>
<rect x="1495" y="106" width="1" height="10" fill="#ff0000"/>
<rect x="1493" y="106" width="5" height="10" fill="#ff0000"/>
<rect x="1503" y="100" width="1" height="16" fill="#00fe7c"/>
<rect x="1501" y="108" width="5" height="2" fill="#00fe7c"/>
<rect x="1511" y="108" width="1" height="8" fill="#00fe7c"/>
<rect x="1509" y="108" width="5" height="5" fill="#00fe7c"/>
<rect x="1519" y="110" width="1" height="11" fill="#ff0000"/>
<rect x="1517" y="111" width="5" height="2" fill="#ff0000"/>
<rect x="1527" y="111" width="1" height="6" fill="#00fe7c"/>
<rect x="1525" y="112" width="5" height="3" fill="#00fe7c"/>
<rect x="1535" y="111" width="1" height="4" fill="#ff0000"/>
<rect x="1533" y="111" width="5" height="3" fill="#ff0000"/>
<rect x="1543" y="108" width="1" height="7" fill="#ff0000"/>
<rect x="1541" y="109" width="5" height="3" fill="#ff0000"/>
<rect x="1551" y="108" width="1" height="16" fill="#00fe7c"/>
<rect x="1549" y="108" width="5" height="12" fill="#00fe7c"/>
<rect x="1559" y="115" width="1" height="7" fill="#ff0000"/>
<rect x="1557" y="116" width="5" height="4" fill="#ff0000"/>
<rect x="1567" y="112" width="1" height="3" fill="#00fe7c"/>
<rect x="1565" y="113" width="5" height="2" fill="#00fe7c"/>
<rect x="1575" y="106" width="1" height="9" fill="#ff0000"/>
<rect x="1573" y="106" width="5" height="8" fill="#ff0000"/>
<rect x="1583" y="106" width="1" height="4" fill="#ff0000"/>
<rect x="1581" y="107" width="5" height="2" fill="#ff0000"/>
<rect x="1591" y="106" width="1" height="4" fill="#ff0000"/>
<rect x="1589" y="107" width="5" height="1" fill="#ff0000"/>
<rect x="1599" y="95" width="1" height="15" fill="#ff0000"/>
<rect x="1597" y="96" width="5" height="10" fill="#ff0000"/>
<rect x="1607" y="92" width="1" height="11" fill="#00fe7c"/>
<rect x="1605" y="95" width="5" height="4" fill="#00fe7c"/>
<rect x="1615" y="78" width="1" height="24" fill="#ff0000"/>
<rect x="1613" y="80" width="5" height="18" fill="#ff0000"/>
<rect x="1623" y="67" width="1" height="15" fill="#ff0000"/>
<rect x="1621" y="67" width="5" height="14" fill="#ff0000"/>
<rect x="1631" y="67" width="1" height="5" fill="#00fe7c"/>
<rect x="1629" y="68" width="5" height="3" fill="#00fe7c"/>
<rect x="1639" y="59" width="1" height="13" fill="#ff0000"/>
<rect x="1637" y="61" width="5" height="8" fill="#ff0000"/>
<rect x="1647" y="59" width="1" height="33" fill="#00fe7c"/>
<rect x="1645" y="62" width="5" height="16" fill="#00fe7c"/>
<rect x="1655" y="72" width="1" height="14" fill="#00fe7c"/>
<rect x="1653" y="77" width="5" height="1" fill="#00fe7c"/>
<rect x="1663" y="77" width="1" height="20" fill="#00fe7c"/>
<rect x="1661" y="78" width="5" height="16" fill="#00fe7c"/>
<polyline fill="none" stroke="#ff0000" stroke-width="1" points="653.5,450.4 665.5,450.2 700.5,442.2 730.5,436.5 807.1,423.4 900.5,410.0 916.5,408.4 1000.5,393.0 1100.5,376.3 1200.5,360.0 1332.3,335.8 1370.8,329.4 1446.0,316.9 1521.3,303.1 1560.5,295.5 1596.6,288.1 1663.5,273.8"/>
<polyline fill="none" stroke="#ff00ff" stroke-width="1" points="7.5,451.0 11.8,449.7 112.2,427.8 176.2,414.6 216.5,408.0 235.3,404.7 266.7,398.5 291.8,392.8 311.9,387.2 329.4,384.0 354.5,381.2 379.6,378.1 404.7,375.9 432.5,373.4 470.1,369.7 507.8,364.0 545.4,356.5 583.1,348.3 614.4,340.8 648.5,333.3 663.6,331.0 700.5,325.7 725.6,322.4 748.2,319.3 803.4,319.3 813.4,321.3 832.2,322.4 858.6,322.1 888.7,321.3 900.5,320.2 915.5,319.6 955.7,317.7 963.2,316.4 988.3,315.2 1003.4,314.6 1044.8,315.2 1059.8,317.1 1076.2,318.3 1100.5,319.5 1146.9,319.4 1163.2,317.6 1200.9,310.3 1232.2,303.4 1251.1,294.6 1276.2,282.1 1295.5,274.8 1316.5,265.8 1333.1,258.4 1365.7,246.7 1395.9,239.1 1433.5,227.3 1458.6,217.8 1496.2,201.5 1516.5,192.8 1546.4,180.2 1571.5,170.1 1596.6,161.4 1621.6,153.8 1633.6,149.7 1663.5,139.3"/>
<polyline fill="none" stroke="#ffa500" stroke-width="1" points="7.5,417.8 31.9,414.2 55.7,410.6 68.3,407.7 83.3,407.5 85.8,408.3 113.5,408.6 121.0,407.5 131.0,405.5 153.5,405.2 176.2,402.1 196.2,397.0 216.5,391.2 241.6,384.3 256.7,378.4 271.7,371.2 281.7,365.9 296.8,361.2 311.9,354.2 326.9,349.2 342.0,345.8 354.5,343.5 367.1,342.3 379.6,342.4 392.2,344.5 404.7,347.0 417.3,348.9 432.5,352.5 447.5,355.0 463.9,358.4 482.7,361.3 495.2,361.8 514.1,359.3 535.4,354.6 558.0,346.1 574.3,340.2 593.1,330.8 608.2,323.2 627.0,312.6 651.1,301.5 663.6,298.0 678.7,291.4 695.0,288.9 700.5,287.4 719.3,284.1 738.1,280.7 750.7,279.1 759.5,282.0 775.8,288.3 798.4,297.1 813.4,307.1 826.0,317.1 838.5,327.2 851.1,333.4 863.6,338.5 876.2,343.5 886.2,348.0 900.5,352.8 910.5,357.8 920.6,361.6 938.1,360.4 950.7,357.2 968.3,349.1 988.3,334.6 1000.9,327.7 1013.4,318.3 1026.0,315.8 1038.5,312.1 1051.1,308.3 1076.2,302.6 1095.0,298.2 1100.5,297.5 1113.0,295.5 1119.3,296.8 1144.4,296.5 1153.2,293.4 1175.8,285.0 1195.9,274.6 1207.2,270.8 1219.7,263.3 1247.3,249.1 1263.6,236.7 1276.2,229.0 1288.7,220.2 1301.3,212.1 1311.3,207.1 1316.5,206.4 1345.7,199.7 1359.5,197.2 1375.8,190.3 1400.9,182.8 1413.4,177.8 1426.0,175.9 1442.3,171.5 1451.1,168.4 1463.6,163.4 1488.7,152.1 1494.3,149.7 1518.1,139.1 1550.8,126.5 1580.9,117.8 1606.0,112.1 1621.0,108.1 1631.1,104.6 1643.6,101.4 1654.9,98.3 1663.5,98.1"/>
<rect x="6" y="38" width="1677" height="1" fill="#000"/>
<rect x="6" y="451" width="1677" height="1" fill="#000"/>
<rect x="6" y="38" width="1" height="414" fill="#000"/>
<rect x="1682" y="38" width="1" height="414" fill="#000"/>
<rect x="7" y="106" width="1676" height="2" fill="#00fe7c"/>
<rect x="6" y="104" width="6" height="6" fill="#00fe7c"/>
<rect x="8" y="106" width="2" height="2" fill="#fff"/>
<rect x="1676" y="104" width="6" height="6" fill="#00fe7c"/>
<rect x="1678" y="106" width="2" height="2" fill="#fff"/>
<rect x="1684" y="101" width="43" height="11" fill="#00fe7c"/>
<rect x="7" y="169" width="1676" height="2" fill="#3a62de"/>
<rect x="6" y="167" width="6" height="6" fill="#3a62de"/>
<rect x="8" y="169" width="2" height="2" fill="#fff"/>
<rect x="1676" y="167" width="6" height="6" fill="#3a62de"/>
<rect x="1678" y="169" width="2" height="2" fill="#fff"/>
<rect x="1684" y="164" width="43" height="11" fill="#4169e1"/>
<rect x="7" y="272" width="1676" height="2" fill="#3a62de"/>
<rect x="6" y="270" width="6" height="6" fill="#3a62de"/>
<rect x="8" y="272" width="2" height="2" fill="#fff"/>
<rect x="1676" y="270" width="6" height="6" fill="#3a62de"/>
<rect x="1678" y="272" width="2" height="2" fill="#fff"/>
<rect x="1684" y="267" width="43" height="11" fill="#4169e1"/>
<rect x="1684" y="88" width="43" height="11" fill="#000"/>
<rect x="1683" y="52" width="2" height="1" fill="#000"/>
<rect x="1683" y="85" width="2" height="1" fill="#000"/>
<rect x="1683" y="118" width="2" height="1" fill="#000"/>
<rect x="1683" y="151" width="2" height="1" fill="#000"/>
<rect x="1683" y="184" width="2" height="1" fill="#000"/>
<rect x="1683" y="217" width="2" height="1" fill="#000"/>
<rect x="1683" y="250" width="2" height="1" fill="#000"/>
<rect x="1683" y="283" width="2" height="1" fill="#000"/>
<rect x="1683" y="316" width="2" height="1" fill="#000"/>
<rect x="1683" y="349" width="2" height="1" fill="#000"/>
<rect x="1683" y="382" width="2" height="1" fill="#000"/>
<rect x="1683" y="415" width="2" height="1" fill="#000"/>
<rect x="1683" y="448" width="2" height="1" fill="#000"/>
<rect x="6" y="453" width="1677" height="1" fill="#000"/>
<rect x="6" y="664" width="1677" height="1" fill="#000"/>
<rect x="6" y="453" width="1" height="212" fill="#000"/>
<rect x="1682" y="453" width="1" height="212" fill="#000"/>
<rect x="7" y="524" width="1" height="33" fill="#c0c0c0"/>
<rect x="15" y="529" width="1" height="28" fill="#c0c0c0"/>
<rect x="23" y="532" width="1" height="25" fill="#c0c0c0"/>
<rect x="31" y="532" width="1" height="25" fill="#c0c0c0"/>
<rect x="39" y="533" width="1" height="24" fill="#c0c0c0"/>
<rect x="47" y="535" width="1" height="22" fill="#c0c0c0"/>
<rect x="55" y="532" width="1" height="25" fill="#c0c0c0"/>
<rect x="63" y="531" width="1" height="26" fill="#c0c0c0"/>
<rect x="71" y="525" width="1" height="32" fill="#c0c0c0"/>
<rect x="79" y="528" width="1" height="29" fill="#c0c0c0"/>
<rect x="87" y="531" width="1" height="26" fill="#c0c0c0"/>
<rect x="95" y="534" width="1" height="23" fill="#c0c0c0"/>
<rect x="103" y="536" width="1" height="21" fill="#c0c0c0"/>
<rect x="111" y="541" width="1" height="16" fill="#c0c0c0"/>
<rect x="119" y="539" width="1" height="18" fill="#c0c0c0"/>
<rect x="127" y="537" width="1" height="20" fill="#c0c0c0"/>
<rect x="135" y="534" width="1" height="23" fill="#c0c0c0"/>
<rect x="143" y="535" width="1" height="22" fill="#c0c0c0"/>
<rect x="151" y="536" width="1" height="21" fill="#c0c0c0"/>
<rect x="159" y="535" width="1" height="22" fill="#c0c0c0"/>
<rect x="167" y="536" width="1" height="21" fill="#c0c0c0"/>
<rect x="175" y="536" width="1" height="21" fill="#c0c0c0"/>
<rect x="183" y="532" width="1" height="25" fill="#c0c0c0"/>
<rect x="191" y="525" width="1" height="32" fill="#c0c0c0"/>
<rect x="199" y="521" width="1" height="36" fill="#c0c0c0"/>
<rect x="207" y="519" width="1" height="38" fill="#c0c0c0"/>
<rect x="215" y="515" width="1" height="42" fill="#c0c0c0"/>
<rect x="223" y="508" width="1" height="49" fill="#c0c0c0"/>
<rect x="231" y="502" width="1" height="55" fill="#c0c0c0"/>
<rect x="239" y="500" width="1" height="57" fill="#c0c0c0"/>
<rect x="247" y="498" width="1" height="59" fill="#c0c0c0"/>
<rect x="255" y="493" width="1" height="64" fill="#c0c0c0"/>
<rect x="263" y="490" width="1" height="67" fill="#c0c0c0"/>
<rect x="271" y="492" width="1" height="65" fill="#c0c0c0"/>
<rect x="279" y="492" width="1" height="65" fill="#c0c0c0"/>
<rect x="287" y="494" width="1" height="63" fill="#c0c0c0"/>
<rect x="295" y="494" width="1" height="63" fill="#c0c0c0"/>
<rect x="303" y="493" width="1" height="64" fill="#c0c0c0"/>
<rect x="311" y="492" width="1" height="65" fill="#c0c0c0"/>
<rect x="319" y="500" width="1" height="57" fill="#c0c0c0"/>
<rect x="327" y="503" width="1" height="54" fill="#c0c0c0"/>
<rect x="335" y="511" width="1" height="46" fill="#c0c0c0"/>
<rect x="343" y="518" width="1" height="39" fill="#c0c0c0"/>
<rect x="351" y="524" width="1" height="33" fill="#c0c0c0"/>
<rect x="359" y="529" width="1" height="28" fill="#c0c0c0"/>
<rect x="367" y="530" width="1" height="27" fill="#c0c0c0"/>
<rect x="375" y="539" width="1" height="18" fill="#c0c0c0"/>
<rect x="383" y="547" width="1" height="10" fill="#c0c0c0"/>
<rect x="391" y="553" width="1" height="4" fill="#c0c0c0"/>
<rect x="399" y="556" width="1" height="1" fill="#c0c0c0"/>
<rect x="407" y="556" width="1" height="1" fill="#c0c0c0"/>
<rect x="415" y="556" width="1" height="6" fill="#c0c0c0"/>
<rect x="423" y="556" width="1" height="6" fill="#c0c0c0"/>
<rect x="431" y="556" width="1" height="9" fill="#c0c0c0"/>
<rect x="439" y="556" width="1" height="8" fill="#c0c0c0"/>
<rect x="447" y="556" width="1" height="7" fill="#c0c0c0"/>
<rect x="455" y="556" width="1" height="5" fill="#c0c0c0"/>
<rect x="463" y="556" width="1" height="6" fill="#c0c0c0"/>
<rect x="471" y="556" width="1" height="6" fill="#c0c0c0"/>
<rect x="479" y="556" width="1" height="3" fill="#c0c0c0"/>
<rect x="487" y="553" width="1" height="4" fill="#c0c0c0"/>
<rect x="495" y="547" width="1" height="10" fill="#c0c0c0"/>
<rect x="503" y="543" width="1" height="14" fill="#c0c0c0"/>
<rect x="511" y="541" width="1" height="16" fill="#c0c0c0"/>
<rect x="519" y="533" width="1" height="24" fill="#c0c0c0"/>
<rect x="527" y="527" width="1" height="30" fill="#c0c0c0"/>
<rect x="535" y="521" width="1" height="36" fill="#c0c0c0"/>
<rect x="543" y="516" width="1" height="41" fill="#c0c0c0"/>
<rect x="551" y="512" width="1" height="45" fill="#c0c0c0"/>
<rect x="559" y="511" width="1" height="46" fill="#c0c0c0"/>
<rect x="567" y="508" width="1" height="49" fill="#c0c0c0"/>
<rect x="575" y="505" width="1" height="52" fill="#c0c0c0"/>
<rect x="583" y="501" width="1" height="56" fill="#c0c0c0"/>
<rect x="591" y="496" width="1" height="61" fill="#c0c0c0"/>
<rect x="599" y="493" width="1" height="64" fill="#c0c0c0"/>
<rect x="607" y="491" width="1" height="66" fill="#c0c0c0"/>
<rect x="615" y="491" width="1" height="66" fill="#c0c0c0"/>
<rect x="623" y="487" width="1" height="70" fill="#c0c0c0"/>
<rect x="631" y="490" width="1" height="67" fill="#c0c0c0"/>
<rect x="639" y="494" width="1" height="63" fill="#c0c0c0"/>
<rect x="647" y="495" width="1" height="62" fill="#c0c0c0"/>
<rect x="655" y="497" width="1" height="60" fill="#c0c0c0"/>
<rect x="663" y="498" width="1" height="59" fill="#c0c0c0"/>
<rect x="671" y="499" width="1" height="58" fill="#c0c0c0"/>
<rect x="679" y="500" width="1" height="57" fill="#c0c0c0"/>
<rect x="687" y="504" width="1" height="53" fill="#c0c0c0"/>
<rect x="695" y="509" width="1" height="48" fill="#c0c0c0"/>
<rect x="703" y="512" width="1" height="45" fill="#c0c0c0"/>
<rect x="711" y="514" width="1" height="43" fill="#c0c0c0"/>
<rect x="719" y="519" width="1" height="38" fill="#c0c0c0"/>
<rect x="727" y="520" width="1" height="37" fill="#c0c0c0"/>
<rect x="735" y="518" width="1" height="39" fill="#c0c0c0"/>
<rect x="743" y="519" width="1" height="38" fill="#c0c0c0"/>
<rect x="751" y="521" width="1" height="36" fill="#c0c0c0"/>
<rect x="759" y="544" width="1" height="13" fill="#c0c0c0"/>
<rect x="767" y="556" width="1" height="1" fill="#c0c0c0"/>
<rect x="775" y="556" width="1" height="15" fill="#c0c0c0"/>
<rect x="783" y="556" width="1" height="23" fill="#c0c0c0"/>
<rect x="791" y="556" width="1" height="30" fill="#c0c0c0"/>
<rect x="799" y="556" width="1" height="41" fill="#c0c0c0"/>
<rect x="807" y="556" width="1" height="66" fill="#c0c0c0"/>
<rect x="815" y="556" width="1" height="81" fill="#c0c0c0"/>
<rect x="823" y="556" width="1" height="86" fill="#c0c0c0"/>
<rect x="831" y="556" width="1" height="90" fill="#c0c0c0"/>
<rect x="839" y="556" width="1" height="98" fill="#c0c0c0"/>
<rect x="847" y="556" width="1" height="89" fill="#c0c0c0"/>
<rect x="855" y="556" width="1" height="76" fill="#c0c0c0"/>
<rect x="863" y="556" width="1" height="64" fill="#c0c0c0"/>
<rect x="871" y="556" width="1" height="58" fill="#c0c0c0"/>
<rect x="879" y="556" width="1" height="53" fill="#c0c0c0"/>
<rect x="887" y="556" width="1" height="44" fill="#c0c0c0"/>
<rect x="895" y="556" width="1" height="34" fill="#c0c0c0"/>
<rect x="903" y="556" width="1" height="32" fill="#c0c0c0"/>
<rect x="911" y="556" width="1" height="28" fill="#c0c0c0"/>
<rect x="919" y="556" width="1" height="23" fill="#c0c0c0"/>
<rect x="927" y="556" width="1" height="16" fill="#c0c0c0"/>
<rect x="935" y="556" width="1" height="10" fill="#c0c0c0"/>
<rect x="943" y="556" width="1" height="3" fill="#c0c0c0"/>
<rect x="951" y="543" width="1" height="14" fill="#c0c0c0"/>
<rect x="959" y="530" width="1" height="27" fill="#c0c0c0"/>
<rect x="967" y="520" width="1" height="37" fill="#c0c0c0"/>
<rect x="975" y="513" width="1" height="44" fill="#c0c0c0"/>
<rect x="983" y="511" width="1" height="46" fill="#c0c0c0"/>
<rect x="991" y="507" width="1" height="50" fill="#c0c0c0"/>
<rect x="999" y="507" width="1" height="50" fill="#c0c0c0"/>
<rect x="1007" y="504" width="1" height="53" fill="#c0c0c0"/>
<rect x="1015" y="506" width="1" height="51" fill="#c0c0c0"/>
<rect x="1023" y="512" width="1" height="45" fill="#c0c0c0"/>
<rect x="1031" y="516" width="1" height="41" fill="#c0c0c0"/>
<rect x="1039" y="519" width="1" height="38" fill="#c0c0c0"/>
<rect x="1047" y="529" width="1" height="28" fill="#c0c0c0"/>
<rect x="1055" y="528" width="1" height="29" fill="#c0c0c0"/>
<rect x="1063" y="530" width="1" height="27" fill="#c0c0c0"/>
<rect x="1071" y="533" width="1" height="24" fill="#c0c0c0"/>
<rect x="1079" y="536" width="1" height="21" fill="#c0c0c0"/>
<rect x="1087" y="539" width="1" height="18" fill="#c0c0c0"/>
<rect x="1095" y="539" width="1" height="18" fill="#c0c0c0"/>
<rect x="1103" y="540" width="1" height="17" fill="#c0c0c0"/>
<rect x="1111" y="537" width="1" height="20" fill="#c0c0c0"/>
<rect x="1119" y="533" width="1" height="24" fill="#c0c0c0"/>
<rect x="1127" y="531" width="1" height="26" fill="#c0c0c0"/>
<rect x="1135" y="529" width="1" height="28" fill="#c0c0c0"/>
<rect x="1143" y="528" width="1" height="29" fill="#c0c0c0"/>
<rect x="1151" y="513" width="1" height="44" fill="#c0c0c0"/>
<rect x="1159" y="506" width="1" height="51" fill="#c0c0c0"/>
<rect x="1167" y="491" width="1" height="66" fill="#c0c0c0"/>
<rect x="1175" y="482" width="1" height="75" fill="#c0c0c0"/>
<rect x="1183" y="473" width="1" height="84" fill="#c0c0c0"/>
<rect x="1191" y="469" width="1" height="88" fill="#c0c0c0"/>
<rect x="1199" y="476" width="1" height="81" fill="#c0c0c0"/>
<rect x="1207" y="479" width="1" height="78" fill="#c0c0c0"/>
<rect x="1215" y="481" width="1" height="76" fill="#c0c0c0"/>
<rect x="1223" y="481" width="1" height="76" fill="#c0c0c0"/>
<rect x="1231" y="479" width="1" height="78" fill="#c0c0c0"/>
<rect x="1239" y="479" width="1" height="78" fill="#c0c0c0"/>
<rect x="1247" y="478" width="1" height="79" fill="#c0c0c0"/>
<rect x="1255" y="471" width="1" height="86" fill="#c0c0c0"/>
<rect x="1263" y="467" width="1" height="90" fill="#c0c0c0"/>
<rect x="1271" y="467" width="1" height="90" fill="#c0c0c0"/>
<rect x="1279" y="466" width="1" height="91" fill="#c0c0c0"/>
<rect x="1287" y="465" width="1" height="92" fill="#c0c0c0"/>
<rect x="1295" y="468" width="1" height="89" fill="#c0c0c0"/>
<rect x="1303" y="470" width="1" height="87" fill="#c0c0c0"/>
<rect x="1311" y="472" width="1" height="85" fill="#c0c0c0"/>
<rect x="1319" y="477" width="1" height="80" fill="#c0c0c0"/>
<rect x="1327" y="481" width="1" height="76" fill="#c0c0c0"/>
<rect x="1335" y="487" width="1" height="70" fill="#c0c0c0"/>
<rect x="1343" y="490" width="1" height="67" fill="#c0c0c0"/>
<rect x="1351" y="491" width="1" height="66" fill="#c0c0c0"/>
<rect x="1359" y="493" width="1" height="64" fill="#c0c0c0"/>
<rect x="1367" y="494" width="1" height="63" fill="#c0c0c0"/>
<rect x="1375" y="495" width="1" height="62" fill="#c0c0c0"/>
<rect x="1383" y="497" width="1" height="60" fill="#c0c0c0"/>
<rect x="1391" y="498" width="1" height="59" fill="#c0c0c0"/>
<rect x="1399" y="499" width="1" height="58" fill="#c0c0c0"/>
<rect x="1407" y="496" width="1" height="61" fill="#c0c0c0"/>
<rect x="1415" y="492" width="1" height="65" fill="#c0c0c0"/>
<rect x="1423" y="490" width="1" height="67" fill="#c0c0c0"/>
<rect x="1431" y="491" width="1" height="66" fill="#c0c0c0"/>
<rect x="1439" y="491" width="1" height="66" fill="#c0c0c0"/>
<rect x="1447" y="485" width="1" height="72" fill="#c0c0c0"/>
<rect x="1455" y="478" width="1" height="79" fill="#c0c0c0"/>
<rect x="1463" y="476" width="1" height="81" fill="#c0c0c0"/>
<rect x="1471" y="473" width="1" height="84" fill="#c0c0c0"/>
<rect x="1479" y="472" width="1" height="85" fill="#c0c0c0"/>
<rect x="1487" y="473" width="1" height="84" fill="#c0c0c0"/>
<rect x="1495" y="473" width="1" height="84" fill="#c0c0c0"/>
<rect x="1503" y="474" width="1" height="83" fill="#c0c0c0"/>
<rect x="1511" y="476" width="1" height="81" fill="#c0c0c0"/>
<rect x="1519" y="479" width="1" height="78" fill="#c0c0c0"/>
<rect x="1527" y="483" width="1" height="74" fill="#c0c0c0"/>
<rect x="1535" y="486" width="1" height="71" fill="#c0c0c0"/>
<rect x="1543" y="488" width="1" height="69" fill="#c0c0c0"/>
<rect x="1551" y="494" width="1" height="63" fill="#c0c0c0"/>
<rect x="1559" y="498" width="1" height="59" fill="#c0c0c0"/>
<rect x="1567" y="502" width="1" height="55" fill="#c0c0c0"/>
<rect x="1575" y="503" width="1" height="54" fill="#c0c0c0"/>
<rect x="1583" y="505" width="1" height="52" fill="#c0c0c0"/>
<rect x="1591" y="507" width="1" height="50" fill="#c0c0c0"/>
<rect x="1599" y="506" width="1" height="51" fill="#c0c0c0"/>
<rect x="1607" y="506" width="1" height="51" fill="#c0c0c0"/>
<rect x="1615" y="502" width="1" height="55" fill="#c0c0c0"/>
<rect x="1623" y="496" width="1" height="61" fill="#c0c0c0"/>
<rect x="1631" y="493" width="1" height="64" fill="#c0c0c0"/>
<rect x="1639" y="489" width="1" height="68" fill="#c0c0c0"/>
<rect x="1647" y="491" width="1" height="66" fill="#c0c0c0"/>
<rect x="1655" y="493" width="1" height="64" fill="#c0c0c0"/>
<rect x="1663" y="500" width="1" height="57" fill="#c0c0c0"/>
<polyline fill="none" stroke="#ff0000" stroke-width="1" points="7.9,513.2 20.5,517.6 40.5,523.3 62.7,529.3 88.9,530.5 117.0,531.9 141.1,534.3 161.1,535.5 181.2,534.7 201.3,531.3 221.4,525.3 241.5,515.8 261.5,505.8 281.6,497.8 301.7,493.7 321.8,492.5 331.8,495.1 343.9,499.6 360.5,506.6 380.7,518.2 400.7,533.3 420.8,546.3 440.9,556.4 448.9,559.8 465.0,562.4 479.1,562.8 493.1,560.8 505.2,557.4 521.2,551.0 541.3,538.3 561.4,526.3 581.5,514.6 601.5,505.8 621.6,497.8 637.7,493.7 655.8,491.5 671.8,492.5 686.3,494.1 704.6,500.0 728.7,507.4 758.8,518.7 780.9,536.1 801.0,555.2 821.1,585.3 839.1,613.5 855.2,629.5 869.3,634.5 881.3,632.9 897.4,621.5 917.4,604.4 935.5,590.0 961.6,566.3 981.7,546.2 1001.8,528.1 1021.9,512.4 1040.5,510.4 1052.6,512.2 1072.7,519.6 1090.8,527.9 1108.9,533.9 1128.9,534.5 1145.0,534.3 1161.1,526.3 1175.1,517.2 1191.2,502.2 1205.2,492.1 1217.3,484.1 1229.3,479.1 1251.4,476.7 1275.5,474.5 1287.6,471.4 1305.6,469.4 1321.7,468.4 1333.8,471.0 1345.8,474.5 1360.5,480.3 1378.6,487.5 1396.6,492.5 1410.7,494.3 1436.8,493.9 1456.9,490.1 1470.9,485.7 1487.0,480.1 1501.1,477.1 1513.1,474.5 1533.2,474.7 1541.2,476.5 1557.3,481.1 1571.3,487.5 1585.4,492.1 1599.4,498.2 1613.5,502.2 1629.6,501.8 1647.6,499.6 1663.5,496.1" stroke-dasharray="3 3"/>
<rect x="1683" y="455" width="2" height="1" fill="#000"/>
<rect x="1683" y="556" width="2" height="1" fill="#000"/>
<rect x="1683" y="663" width="2" height="1" fill="#000"/>
<rect x="6" y="666" width="1677" height="1" fill="#000"/>
<rect x="6" y="771" width="1677" height="1" fill="#000"/>
<rect x="6" y="666" width="1" height="106" fill="#000"/>
<rect x="1682" y="666" width="1" height="106" fill="#000"/>
<line x1="8" y1="698.5" x2="1682" y2="698.5" stroke="#c0c0c0" stroke-width="1" stroke-dasharray="3 3"/>
<line x1="8" y1="740.5" x2="1682" y2="740.5" stroke="#c0c0c0" stroke-width="1" stroke-dasharray="3 3"/>
<polyline fill="none" stroke="#1e90ff" stroke-width="1" points="7.5,718.5 15.5,718.5 23.5,716.4 31.5,711.4 39.5,712.6 47.5,715.5 55.5,708.4 63.5,710.4 71.5,702.4 79.5,717.4 87.5,714.7 95.5,719.4 103.5,717.4 111.5,722.4 119.5,713.7 127.5,712.5 135.5,711.4 143.5,715.5 151.5,714.4 159.5,713.4 167.5,716.7 175.5,713.7 183.5,708.9 191.5,702.4 199.5,704.3 207.5,707.3 215.5,703.4 223.5,699.7 231.5,698.3 239.5,702.4 247.5,701.3 255.5,697.6 263.5,698.3 271.5,706.4 279.5,703.4 287.5,706.4 295.5,704.6 303.5,703.4 311.5,699.4 319.5,715.9 327.5,711.4 335.5,718.5 343.5,718.5 351.5,719.4 359.5,719.4 367.5,714.4 375.5,724.2 383.5,726.5 391.5,725.4 399.5,725.4 407.5,720.5 415.5,726.5 423.5,720.5 431.5,724.2 439.5,719.4 447.5,720.5 455.5,718.5 463.5,722.4 471.5,718.5 479.5,715.2 487.5,710.4 495.5,710.4 503.5,710.4 511.5,711.4 519.5,703.4 527.5,703.1 535.5,701.3 543.5,700.4 551.5,700.4 559.5,703.4 567.5,699.4 575.5,699.4 583.5,695.3 591.5,694.1 599.5,693.3 607.5,693.3 615.5,696.4 623.5,692.3 631.5,704.3 639.5,703.1 647.5,704.3 655.5,701.3 663.5,701.3 671.5,700.4 679.5,699.4 687.5,709.5 695.5,711.4 703.5,707.3 711.5,707.3 719.5,714.4 727.5,710.4 735.5,702.4 743.5,708.4 751.5,711.4 759.5,739.6 767.5,731.4 775.5,736.3 783.5,729.5 791.5,731.4 799.5,736.3 807.5,745.3 815.5,740.0 823.5,734.5 831.5,734.5 839.5,738.5 847.5,723.5 855.5,720.2 863.5,719.4 871.5,723.5 879.5,722.4 887.5,718.5 895.5,716.4 903.5,722.4 911.5,721.5 919.5,718.5 927.5,716.4 935.5,715.2 943.5,714.4 951.5,705.4 959.5,704.3 967.5,705.7 975.5,705.7 983.5,709.5 991.5,707.3 999.5,710.4 1007.5,706.4 1015.5,712.5 1023.5,716.4 1031.5,715.2 1039.5,715.2 1047.5,724.5 1055.5,714.4 1063.5,716.4 1071.5,718.5 1079.5,718.5 1087.5,718.5 1095.5,716.4 1103.5,717.4 1111.5,711.4 1119.5,710.4 1127.5,709.5 1135.5,710.4 1143.5,710.4 1151.5,696.4 1159.5,702.4 1167.5,695.3 1175.5,697.4 1183.5,696.4 1191.5,697.4 1199.5,712.5 1207.5,709.5 1215.5,708.4 1223.5,706.4 1231.5,703.4 1239.5,704.3 1247.5,703.4 1255.5,697.4 1263.5,699.4 1271.5,702.4 1279.5,700.4 1287.5,699.4 1295.5,704.3 1303.5,703.4 1311.5,702.4 1319.5,707.3 1327.5,707.3 1335.5,709.5 1343.5,706.4 1351.5,704.6 1359.5,704.3 1367.5,702.4 1375.5,704.3 1383.5,703.4 1391.5,702.4 1399.5,701.3 1407.5,695.3 1415.5,693.3 1423.5,696.4 1431.5,697.9 1439.5,696.4 1447.5,690.3 1455.5,688.4 1463.5,693.3 1471.5,692.3 1479.5,692.3 1487.5,693.3 1495.5,691.4 1503.5,693.3 1511.5,695.3 1519.5,695.3 1527.5,697.9 1535.5,696.4 1543.5,696.4 1551.5,706.4 1559.5,704.6 1567.5,703.4 1575.5,700.4 1583.5,699.4 1591.5,699.4 1599.5,694.1 1607.5,696.4 1615.5,689.6 1623.5,686.1 1631.5,689.3 1639.5,686.1 1647.5,701.3 1655.5,701.3 1663.5,711.4"/>
<rect x="1683" y="668" width="2" height="1" fill="#000"/>
<rect x="1683" y="770" width="2" height="1" fill="#000"/>
<rect x="7" y="772" width="1" height="3" fill="#000"/>
<rect x="71" y="772" width="1" height="3" fill="#000"/>
<rect x="135" y="772" width="1" height="3" fill="#000"/>
<rect x="199" y="772" width="1" height="3" fill="#000"/>
<rect x="263" y="772" width="1" height="3" fill="#000"/>
<rect x="327" y="772" width="1" height="3" fill="#000"/>
<rect x="391" y="772" width="1" height="3" fill="#000"/>
<rect x="455" y="772" width="1" height="3" fill="#000"/>
<rect x="519" y="772" width="1" height="3" fill="#000"/>
<rect x="583" y="772" width="1" height="3" fill="#000"/>
<rect x="647" y="772" width="1" height="3" fill="#000"/>
<rect x="711" y="772" width="1" height="3" fill="#000"/>
<rect x="775" y="772" width="1" height="3" fill="#000"/>
<rect x="839" y="772" width="1" height="3" fill="#000"/>
<rect x="903" y="772" width="1" height="3" fill="#000"/>
<rect x="967" y="772" width="1" height="3" fill="#000"/>
<rect x="1031" y="772" width="1" height="3" fill="#000"/>
<rect x="1095" y="772" width="1" height="3" fill="#000"/>
<rect x="1159" y="772" width="1" height="3" fill="#000"/>
<rect x="1223" y="772" width="1" height="3" fill="#000"/>
<rect x="1287" y="772" width="1" height="3" fill="#000"/>
<rect x="1351" y="772" width="1" height="3" fill="#000"/>
<rect x="1415" y="772" width="1" height="3" fill="#000"/>
<rect x="1479" y="772" width="1" height="3" fill="#000"/>
<rect x="1543" y="772" width="1" height="3" fill="#000"/>
<rect x="1607" y="772" width="1" height="3" fill="#000"/>
</svg>
<div class="t " style="left:21.7px;top:40.93px;transform-origin:0 9.07px;transform:scaleY(1.05);">SP500-,H4&nbsp; 3244.250 3244.500 3235.250 3237.000</div>
<div class="t " style="left:10.8px;top:456.93px;transform-origin:0 9.07px;transform:scaleY(1.05);letter-spacing:0.05px;">MACD(12,26,9) 8.0078 8.3160</div>
<div class="t " style="left:11px;top:669.93px;transform-origin:0 9.07px;transform:scaleY(1.05);">RSI(14) 56.5772</div>
<div class="t " style="left:1687.8px;top:46.93px;transform-origin:0 9.07px;transform:scaleY(1.05);letter-spacing:-0.05px;">3256.540</div>
<div class="t " style="left:1687.8px;top:79.93px;transform-origin:0 9.07px;transform:scaleY(1.05);letter-spacing:-0.05px;">3240.865</div>
<div class="t " style="left:1687.8px;top:112.93px;transform-origin:0 9.07px;transform:scaleY(1.05);letter-spacing:-0.05px;">3224.715</div>
<div class="t " style="left:1687.8px;top:145.93px;transform-origin:0 9.07px;transform:scaleY(1.05);letter-spacing:-0.05px;">3209.040</div>
<div class="t " style="left:1687.8px;top:178.93px;transform-origin:0 9.07px;transform:scaleY(1.05);letter-spacing:-0.05px;">3192.890</div>
<div class="t " style="left:1687.8px;top:211.93px;transform-origin:0 9.07px;transform:scaleY(1.05);letter-spacing:-0.05px;">3177.215</div>
<div class="t " style="left:1687.8px;top:244.93px;transform-origin:0 9.07px;transform:scaleY(1.05);letter-spacing:-0.05px;">3161.065</div>
<div class="t " style="left:1687.8px;top:277.93px;transform-origin:0 9.07px;transform:scaleY(1.05);letter-spacing:-0.05px;">3145.390</div>
<div class="t " style="left:1687.8px;top:310.93px;transform-origin:0 9.07px;transform:scaleY(1.05);letter-spacing:-0.05px;">3129.240</div>
<div class="t " style="left:1687.8px;top:343.93px;transform-origin:0 9.07px;transform:scaleY(1.05);letter-spacing:-0.05px;">3113.565</div>
<div class="t " style="left:1687.8px;top:376.93px;transform-origin:0 9.07px;transform:scaleY(1.05);letter-spacing:-0.05px;">3097.415</div>
<div class="t " style="left:1687.8px;top:409.93px;transform-origin:0 9.07px;transform:scaleY(1.05);letter-spacing:-0.05px;">3081.740</div>
<div class="t " style="left:1687.8px;top:442.93px;transform-origin:0 9.07px;transform:scaleY(1.05);letter-spacing:-0.05px;">3066.065</div>
<div class="t w" style="left:1687.8px;top:87.93px;transform-origin:0 9.07px;transform:scaleY(1.05);letter-spacing:-0.05px;">3237.000</div>
<div class="t w" style="left:1687.8px;top:100.93px;transform-origin:0 9.07px;transform:scaleY(1.05);letter-spacing:-0.05px;">3230.000</div>
<div class="t w" style="left:1687.8px;top:163.93px;transform-origin:0 9.07px;transform:scaleY(1.05);letter-spacing:-0.05px;">3200.000</div>
<div class="t w" style="left:1687.8px;top:266.93px;transform-origin:0 9.07px;transform:scaleY(1.05);letter-spacing:-0.05px;">3150.000</div>
<div class="t " style="left:1686px;top:454.93px;transform-origin:0 9.07px;transform:scaleY(1.05);letter-spacing:-0.15px;">14.1509</div>
<div class="t " style="left:1686.5px;top:551.23px;transform-origin:0 9.07px;transform:scaleY(1.05);">0.00</div>
<div class="t " style="left:1686px;top:652.43px;transform-origin:0 9.07px;transform:scaleY(1.05);">-15.019</div>
<div class="t " style="left:1686.5px;top:668.23px;transform-origin:0 9.07px;transform:scaleY(1.05);">100</div>
<div class="t " style="left:1684.8px;top:693.13px;transform-origin:0 9.07px;transform:scaleY(1.05);">70</div>
<div class="t " style="left:1684.8px;top:734.93px;transform-origin:0 9.07px;transform:scaleY(1.05);">30</div>
<div class="t " style="left:1686.5px;top:759.43px;transform-origin:0 9.07px;transform:scaleY(1.05);">0</div>
<div class="t " style="left:6.5px;top:774.93px;transform-origin:0 9.07px;transform:scaleY(1.05);letter-spacing:0.02px;">11 Nov 2019</div>
<div class="t " style="left:70.5px;top:774.93px;transform-origin:0 9.07px;transform:scaleY(1.05);letter-spacing:0.02px;">12 Nov 12:00</div>
<div class="t " style="left:134.5px;top:774.93px;transform-origin:0 9.07px;transform:scaleY(1.05);letter-spacing:0.02px;">13 Nov 20:00</div>
<div class="t " style="left:198.5px;top:774.93px;transform-origin:0 9.07px;transform:scaleY(1.05);letter-spacing:0.02px;">15 Nov 04:00</div>
<div class="t " style="left:262.5px;top:774.93px;transform-origin:0 9.07px;transform:scaleY(1.05);letter-spacing:0.02px;">18 Nov 08:00</div>
<div class="t " style="left:326.5px;top:774.93px;transform-origin:0 9.07px;transform:scaleY(1.05);letter-spacing:0.02px;">19 Nov 16:00</div>
<div class="t " style="left:390.5px;top:774.93px;transform-origin:0 9.07px;transform:scaleY(1.05);letter-spacing:0.02px;">21 Nov 00:00</div>
<div class="t " style="left:454.5px;top:774.93px;transform-origin:0 9.07px;transform:scaleY(1.05);letter-spacing:0.02px;">22 Nov 08:00</div>
<div class="t " style="left:518.5px;top:774.93px;transform-origin:0 9.07px;transform:scaleY(1.05);letter-spacing:0.02px;">25 Nov 12:00</div>
<div class="t " style="left:582.5px;top:774.93px;transform-origin:0 9.07px;transform:scaleY(1.05);letter-spacing:0.02px;">26 Nov 20:00</div>
<div class="t " style="left:646.5px;top:774.93px;transform-origin:0 9.07px;transform:scaleY(1.05);letter-spacing:0.02px;">28 Nov 04:00</div>
<div class="t " style="left:710.5px;top:774.93px;transform-origin:0 9.07px;transform:scaleY(1.05);letter-spacing:0.02px;">29 Nov 12:00</div>
<div class="t " style="left:774.5px;top:774.93px;transform-origin:0 9.07px;transform:scaleY(1.05);letter-spacing:0.02px;">2 Dec 20:00</div>
<div class="t " style="left:838.5px;top:774.93px;transform-origin:0 9.07px;transform:scaleY(1.05);letter-spacing:0.02px;">4 Dec 04:00</div>
<div class="t " style="left:902.5px;top:774.93px;transform-origin:0 9.07px;transform:scaleY(1.05);letter-spacing:0.02px;">5 Dec 12:00</div>
<div class="t " style="left:966.5px;top:774.93px;transform-origin:0 9.07px;transform:scaleY(1.05);letter-spacing:0.02px;">6 Dec 20:00</div>
<div class="t " style="left:1030.5px;top:774.93px;transform-origin:0 9.07px;transform:scaleY(1.05);letter-spacing:0.02px;">10 Dec 00:00</div>
<div class="t " style="left:1094.5px;top:774.93px;transform-origin:0 9.07px;transform:scaleY(1.05);letter-spacing:0.02px;">11 Dec 08:00</div>
<div class="t " style="left:1158.5px;top:774.93px;transform-origin:0 9.07px;transform:scaleY(1.05);letter-spacing:0.02px;">12 Dec 16:00</div>
<div class="t " style="left:1222.5px;top:774.93px;transform-origin:0 9.07px;transform:scaleY(1.05);letter-spacing:0.02px;">15 Dec 23:00</div>
<div class="t " style="left:1286.5px;top:774.93px;transform-origin:0 9.07px;transform:scaleY(1.05);letter-spacing:0.02px;">17 Dec 04:00</div>
<div class="t " style="left:1350.5px;top:774.93px;transform-origin:0 9.07px;transform:scaleY(1.05);letter-spacing:0.02px;">18 Dec 12:00</div>
<div class="t " style="left:1414.5px;top:774.93px;transform-origin:0 9.07px;transform:scaleY(1.05);letter-spacing:0.02px;">19 Dec 20:00</div>
<div class="t " style="left:1478.5px;top:774.93px;transform-origin:0 9.07px;transform:scaleY(1.05);letter-spacing:0.02px;">23 Dec 00:00</div>
<div class="t " style="left:1542.5px;top:774.93px;transform-origin:0 9.07px;transform:scaleY(1.05);letter-spacing:0.02px;">24 Dec 08:00</div>
<div class="t " style="left:1606.5px;top:774.93px;transform-origin:0 9.07px;transform:scaleY(1.05);letter-spacing:0.02px;">26 Dec 16:00</div>
<div id="note">多空转折点<span style="letter-spacing:0.7px">3200</span></div>
<div class="t tb" style="left:134px;top:16.76px;font-size:9.8px;line-height:14px;height:14px;transform-origin:0 10.24px;transform:scaleY(1.01);">M1</div>
<div class="t tb" style="left:162px;top:16.76px;font-size:9.8px;line-height:14px;height:14px;transform-origin:0 10.24px;transform:scaleY(1.01);">M5</div>
<div class="t tb" style="left:188px;top:16.76px;font-size:9.8px;line-height:14px;height:14px;transform-origin:0 10.24px;transform:scaleY(1.01);">M15</div>
<div class="t tb" style="left:216px;top:16.76px;font-size:9.8px;line-height:14px;height:14px;transform-origin:0 10.24px;transform:scaleY(1.01);">M30</div>
<div class="t tb" style="left:246.6px;top:16.76px;font-size:9.8px;line-height:14px;height:14px;transform-origin:0 10.24px;transform:scaleY(1.01);">H1</div>
<div class="t tb" style="left:274px;top:16.76px;font-size:9.8px;line-height:14px;height:14px;transform-origin:0 10.24px;transform:scaleY(1.01);">H4</div>
<div class="t tb" style="left:303px;top:16.76px;font-size:9.8px;line-height:14px;height:14px;transform-origin:0 10.24px;transform:scaleY(1.01);">D1</div>
<div class="t tb" style="left:331px;top:16.76px;font-size:9.8px;line-height:14px;height:14px;transform-origin:0 10.24px;transform:scaleY(1.01);">W1</div>
<div class="t tb" style="left:357px;top:16.76px;font-size:9.8px;line-height:14px;height:14px;transform-origin:0 10.24px;transform:scaleY(1.01);">MN</div>
<div class="t tb" style="left:33.6px;top:14.6px;font-size:12.6px;line-height:16px;height:16px;-webkit-text-stroke:0.2px currentColor;">A</div>
</body></html>
